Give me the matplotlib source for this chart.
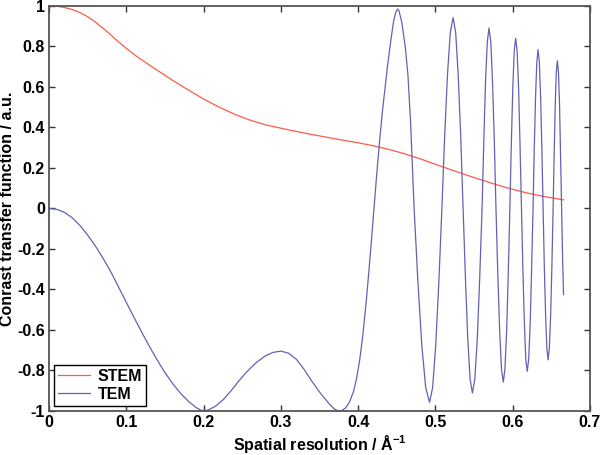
import numpy as np
import matplotlib
matplotlib.use("Agg")
import matplotlib.pyplot as plt

# STEM contrast transfer
stem_k = [0.0, 0.01, 0.02, 0.03, 0.04, 0.05, 0.06, 0.07, 0.08, 0.09, 0.1, 0.11, 0.12,
          0.13, 0.14, 0.15, 0.16, 0.18, 0.2, 0.22, 0.24, 0.26, 0.28, 0.3, 0.32, 0.34,
          0.36, 0.38, 0.4, 0.42, 0.44, 0.46, 0.48, 0.5, 0.52, 0.54, 0.56, 0.58, 0.6,
          0.62, 0.64, 0.666]
stem_ctf = [1.0, 0.998, 0.992, 0.982, 0.967, 0.946, 0.92, 0.889, 0.856, 0.822, 0.79, 0.76, 0.733,
            0.707, 0.682, 0.657, 0.632, 0.585, 0.54, 0.5, 0.465, 0.436, 0.413, 0.396, 0.38, 0.365,
            0.351, 0.337, 0.324, 0.309, 0.291, 0.27, 0.245, 0.218, 0.191, 0.165, 0.14, 0.116, 0.094,
            0.075, 0.059, 0.042]

# TEM contrast transfer
tem_k = [0.0, 0.01, 0.02, 0.03, 0.04, 0.05, 0.06, 0.07, 0.08, 0.09, 0.1, 0.11, 0.12,
         0.13, 0.14, 0.15, 0.16, 0.17, 0.18, 0.19, 0.197,
         0.205, 0.215, 0.225, 0.235, 0.245, 0.256, 0.268, 0.28, 0.29, 0.3, 0.31, 0.32,
         0.33, 0.34, 0.351, 0.362, 0.369, 0.374, 0.379, 0.384, 0.389, 0.394, 0.398, 0.402,
         0.406, 0.41, 0.4135, 0.417, 0.4205,
         0.424, 0.428, 0.4315, 0.435, 0.438, 0.441, 0.4435, 0.446, 0.4485, 0.451,
         0.453, 0.4565, 0.461, 0.4645, 0.468, 0.4725,
         0.4775, 0.4825, 0.4875, 0.4925, 0.4965, 0.5005, 0.5045, 0.5085,
         0.5121, 0.5158, 0.5194, 0.523, 0.5263, 0.5295, 0.5328, 0.536,
         0.539, 0.542, 0.545, 0.548, 0.5511, 0.5543, 0.5574, 0.5605,
         0.5628, 0.565, 0.5673, 0.5695, 0.5718, 0.574, 0.5763, 0.5785,
         0.5809, 0.5833, 0.5856, 0.588, 0.5901, 0.5923, 0.5944, 0.5965,
         0.5984, 0.6003, 0.6021, 0.604, 0.6059, 0.6078, 0.6096, 0.6115,
         0.6134, 0.6153, 0.6171, 0.619, 0.6209, 0.6228, 0.6246, 0.6265,
         0.6281, 0.6298, 0.6314, 0.633, 0.6346, 0.6363, 0.6379, 0.6395,
         0.6411, 0.6428, 0.6444, 0.646, 0.6476, 0.6493, 0.6509, 0.6525,
         0.6539, 0.6553, 0.6566, 0.658, 0.6594, 0.6608, 0.6621, 0.6635,
         0.6648, 0.666]
tem_ctf = [0.0, -0.005, -0.02, -0.047, -0.085, -0.133, -0.187, -0.248, -0.315, -0.39, -0.465, -0.54, -0.613,
           -0.683, -0.75, -0.812, -0.866, -0.913, -0.952, -0.983, -0.998,
           -0.997, -0.978, -0.946, -0.903, -0.855, -0.806, -0.762, -0.728, -0.711, -0.705, -0.715, -0.745,
           -0.795, -0.853, -0.912, -0.963, -0.99, -1.0, -0.998, -0.985, -0.955, -0.905, -0.84, -0.75,
           -0.63, -0.48, -0.33, -0.17, 0.0,
           0.165, 0.34, 0.48, 0.6, 0.7, 0.79, 0.86, 0.925, 0.965, 0.985,
           0.975, 0.92, 0.8, 0.66, 0.42, 0.0,
           -0.367, -0.677, -0.885, -0.958, -0.885, -0.677, -0.367, 0.0,
           0.361, 0.666, 0.87, 0.942, 0.87, 0.666, 0.361, 0.0,
           -0.349, -0.645, -0.843, -0.912, -0.843, -0.645, -0.349, 0.0,
           0.341, 0.63, 0.823, 0.891, 0.823, 0.63, 0.341, 0.0,
           -0.328, -0.607, -0.793, -0.858, -0.793, -0.607, -0.328, 0.0,
           0.321, 0.594, 0.776, 0.84, 0.776, 0.594, 0.321, 0.0,
           -0.308, -0.569, -0.744, -0.805, -0.744, -0.569, -0.308, 0.0,
           0.3, 0.554, 0.724, 0.784, 0.724, 0.554, 0.3, 0.0,
           -0.286, -0.529, -0.691, -0.748, -0.691, -0.529, -0.286, 0.0,
           0.279, 0.515, 0.674, 0.729, 0.674, 0.515, 0.279, 0.0,
           -0.25, -0.426]

xticks = [0, 0.1, 0.2, 0.3, 0.4, 0.5, 0.6, 0.7]
xtick_labels = ["0", "0.1", "0.2", "0.3", "0.4", "0.5", "0.6", "0.7"]
yticks = [-1, -0.8, -0.6, -0.4, -0.2, 0, 0.2, 0.4, 0.6, 0.8, 1]
ytick_labels = ["-1", "-0.8", "-0.6", "-0.4", "-0.2", "0", "0.2", "0.4", "0.6", "0.8", "1"]

plt.rcParams['font.family'] = ['Liberation Sans', 'DejaVu Sans']
plt.rcParams['font.weight'] = 'bold'
plt.rcParams['mathtext.fontset'] = 'custom'
plt.rcParams['mathtext.rm'] = 'Liberation Sans:bold'
plt.rcParams['mathtext.bf'] = 'Liberation Sans:bold'
plt.rcParams['mathtext.default'] = 'rm'

fig = plt.figure(figsize=(6, 4.55), dpi=100)
ax = fig.add_axes([0.082, 0.097, 0.901, 0.89])

ax.plot(stem_k, stem_ctf, color='#ff5a48', lw=0.9, label='STEM')
ax.plot(tem_k, tem_ctf, color='#6262b4', lw=0.9, label='TEM')

ax.set_xlim(0, 0.7)
ax.set_ylim(-1, 1)
ax.set_xticks(xticks)
ax.set_xticklabels(xtick_labels, fontweight='bold', fontsize=11.5)
ax.set_yticks(yticks)
ax.set_yticklabels(ytick_labels, fontweight='bold', fontsize=11.5)
ax.tick_params(direction='in', top=True, right=True, length=4, width=1, color='#333333', pad=3)
for s in ax.spines.values():
    s.set_color('#555555')
    s.set_linewidth(1.3)

ax.set_xlabel('Spatial resolution / Å$^{-1}$', fontweight='bold', fontsize=11.5, labelpad=2)
ax.set_ylabel('Conrast transfer function / a.u.', fontweight='bold', fontsize=11.5, labelpad=2)

leg = ax.legend(loc='lower left', fancybox=False, edgecolor='black', framealpha=1,
                fontsize=11.5, handlelength=2.0, borderpad=0.25, labelspacing=0.2,
                handletextpad=0.5, borderaxespad=0.3)
leg.get_frame().set_linewidth(1.0)
for t in leg.get_texts():
    t.set_fontweight('bold')

fig.savefig('out.png', dpi=100)
